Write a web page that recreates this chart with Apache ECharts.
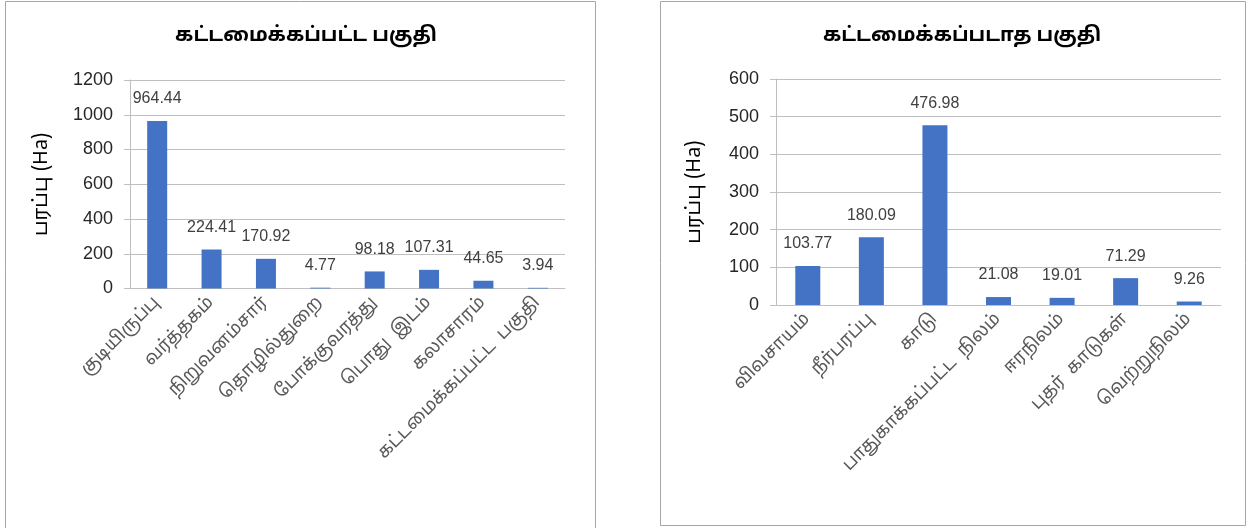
<!DOCTYPE html>
<html>
<head>
<meta charset="utf-8">
<script src="https://cdn.jsdelivr.net/npm/echarts@6/dist/echarts.min.js"></script>
<style>
html,body{margin:0;padding:0;background:#fff;}
#c{width:1252px;height:528px;}
</style>
</head>
<body>
<div id="c"></div>
<script>
// ---- data ----
const leftTitle = 'கட்டமைக்கப்பட்ட பகுதி';
const rightTitle = 'கட்டமைக்கப்படாத பகுதி';
const yName = 'பரப்பு (Ha)';
const leftCategories = ['குடியிருப்பு', 'வர்த்தகம்', 'நிறுவனம்சார்', 'தொழில்துறை', 'போக்குவரத்து', 'பொது  இடம்', 'கலாசாரம்', 'கட்டமைக்கப்பட்ட  பகுதி'];
const leftValues = [964.44, 224.41, 170.92, 4.77, 98.18, 107.31, 44.65, 3.94];
const rightCategories = ['விவசாயம்', 'நீர்பரப்பு', 'காடு', 'பாதுகாக்கப்பட்ட  நிலம்', 'ஈரநிலம்', 'புதர்  காடுகள்', 'வெற்றுநிலம்'];
const rightValues = [103.77, 180.09, 476.98, 21.08, 19.01, 71.29, 9.26];
const leftTicks = {min: 0, max: 1200, interval: 200};
const rightTicks = {min: 0, max: 600, interval: 100};

// ---- styles ----
const FONT = '"Noto Sans Tamil", "Latha", "Noto Sans", "Liberation Sans", sans-serif';
const NUMFONT = '"Liberation Sans", "Noto Sans", sans-serif';
const BAR = '#4472C4';
const GRIDC = '#bfbfbf';
const TXT = '#595959';

function xAxis(gi, cats) {
  return {
    type: 'category', gridIndex: gi, data: cats,
    axisLine: {lineStyle: {color: GRIDC, width: 1}},
    axisTick: {show: false},
    axisLabel: {rotate: 45, color: TXT, fontSize: 18, fontFamily: FONT, margin: 12, interval: 0}
  };
}
function yAxis(gi, t, gap) {
  return {
    type: 'value', gridIndex: gi, min: t.min, max: t.max, interval: t.interval,
    name: yName, nameLocation: 'middle', nameGap: gap,
    nameTextStyle: {color: '#000', fontSize: 20, fontFamily: FONT},
    axisLine: {show: true, lineStyle: {color: GRIDC}},
    axisTick: {show: true, length: 6, lineStyle: {color: GRIDC}},
    axisLabel: {color: '#262626', fontSize: 18, fontFamily: NUMFONT, margin: 17, formatter: function (v) { return String(v); }},
    splitLine: {lineStyle: {color: GRIDC}}
  };
}
function bars(gi, vals, w) {
  return {
    type: 'bar', xAxisIndex: gi, yAxisIndex: gi, data: vals, barWidth: w,
    itemStyle: {color: BAR},
    label: {show: true, position: 'top', distance: 14, color: '#404040', fontSize: 16, fontFamily: NUMFONT},
    animation: false
  };
}

const chart = echarts.init(document.getElementById('c'), null, {renderer: 'canvas'});
chart.setOption({
  animation: false,
  backgroundColor: '#fff',
  title: [
    {text: leftTitle, left: 301, top: 22, textAlign: 'center', textStyle: {fontSize: 20, fontWeight: 'bold', color: '#000', fontFamily: FONT}},
    {text: rightTitle, left: 957, top: 22, textAlign: 'center', textStyle: {fontSize: 20, fontWeight: 'bold', color: '#000', fontFamily: FONT}}
  ],
  graphic: [
    {type: 'rect', shape: {x: 5.5, y: 1.5, width: 590, height: 540}, style: {fill: 'none', stroke: '#a6a6a6', lineWidth: 1}, z: -1},
    {type: 'rect', shape: {x: 660.5, y: 1.5, width: 585, height: 524}, style: {fill: 'none', stroke: '#a6a6a6', lineWidth: 1}, z: -1}
  ],
  grid: [
    {left: 130, right: 687, top: 80, bottom: 239.5},
    {left: 776, right: 31, top: 79, bottom: 223}
  ],
  xAxis: [xAxis(0, leftCategories), xAxis(1, rightCategories)],
  yAxis: [yAxis(0, leftTicks, 77), yAxis(1, rightTicks, 70)],
  series: [bars(0, leftValues, 20), bars(1, rightValues, 25)]
});
</script>
</body>
</html>
